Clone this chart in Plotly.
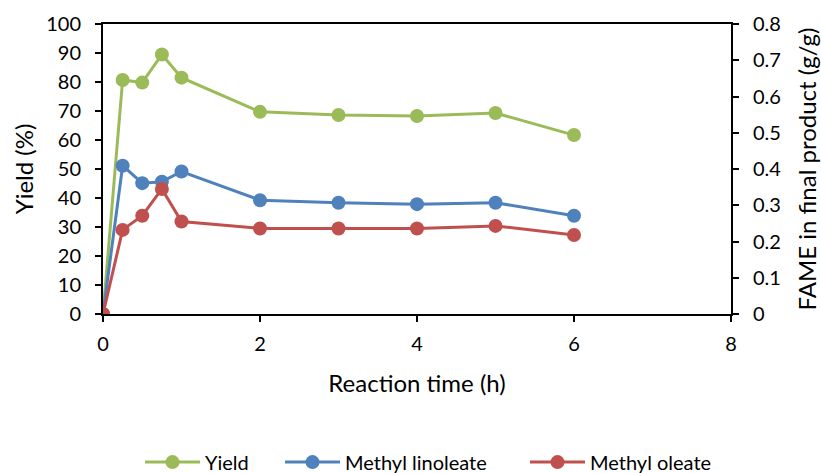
import plotly.graph_objects as go

time_h = [0, 0.25, 0.5, 0.75, 1, 2, 3, 4, 5, 6]
yield_pct = [0, 80.7, 79.8, 89.5, 81.5, 69.7, 68.6, 68.3, 69.3, 61.7]
methyl_linoleate = [0, 0.409, 0.361, 0.365, 0.393, 0.314, 0.307, 0.303, 0.307, 0.271]
methyl_oleate = [0, 0.232, 0.271, 0.345, 0.255, 0.236, 0.236, 0.236, 0.243, 0.218]

GREEN = "#9BBB59"
BLUE = "#4F81BD"
RED = "#C0504D"
FONT = "Lato"

fig = go.Figure()
fig.add_trace(go.Scatter(x=time_h, y=yield_pct, name="Yield", mode="lines+markers",
                         legend="legend",
                         line=dict(color=GREEN, width=3), marker=dict(size=14, color=GREEN)))
fig.add_trace(go.Scatter(x=time_h, y=methyl_linoleate, name="Methyl linoleate", mode="lines+markers",
                         yaxis="y2", legend="legend2",
                         line=dict(color=BLUE, width=3), marker=dict(size=14, color=BLUE)))
fig.add_trace(go.Scatter(x=time_h, y=methyl_oleate, name="Methyl oleate", mode="lines+markers",
                         yaxis="y2", legend="legend3",
                         line=dict(color=RED, width=3), marker=dict(size=14, color=RED)))

def leg(xpx):
    return dict(orientation="h", x=xpx / 821, xanchor="left", xref="container",
                y=0.023, yanchor="middle", yref="container",
                font=dict(size=20), itemwidth=55, bgcolor="rgba(0,0,0,0)")

fig.update_layout(
    width=821, height=473,
    margin=dict(l=103, r=90, t=24, b=159, autoexpand=False),
    paper_bgcolor="white", plot_bgcolor="white",
    font=dict(family=FONT, size=20, color="black"),
    showlegend=True,
    legend=leg(140), legend2=leg(280), legend3=leg(525),
    xaxis=dict(range=[0, 8], dtick=2, showgrid=False, zeroline=False,
               showline=True, linecolor="black", linewidth=2, mirror=True,
               ticks="outside", ticklen=6, tickwidth=1.5, tickcolor="black",
               ticklabelstandoff=5,
               title=dict(text="Reaction time (h)", standoff=21),
               automargin=False),
    yaxis=dict(range=[0, 100], dtick=10, showgrid=False, zeroline=False,
               showline=True, linecolor="black", linewidth=2,
               ticks="outside", ticklen=6, tickwidth=1.5, tickcolor="black",
               ticklabelstandoff=10,
               title=dict(text="Yield (%)", standoff=6), automargin=False),
    yaxis2=dict(range=[0, 0.8], dtick=0.1, overlaying="y", side="right",
                showgrid=False, zeroline=False, tickformat=".1~f",
                showline=True, linecolor="black", linewidth=2,
                ticks="outside", ticklen=6, tickwidth=1.5, tickcolor="black",
                ticklabelstandoff=10,
                title=dict(text="FAME in final product (g/g)", standoff=23),
                automargin=False),
)

fig.write_html("out.html")
